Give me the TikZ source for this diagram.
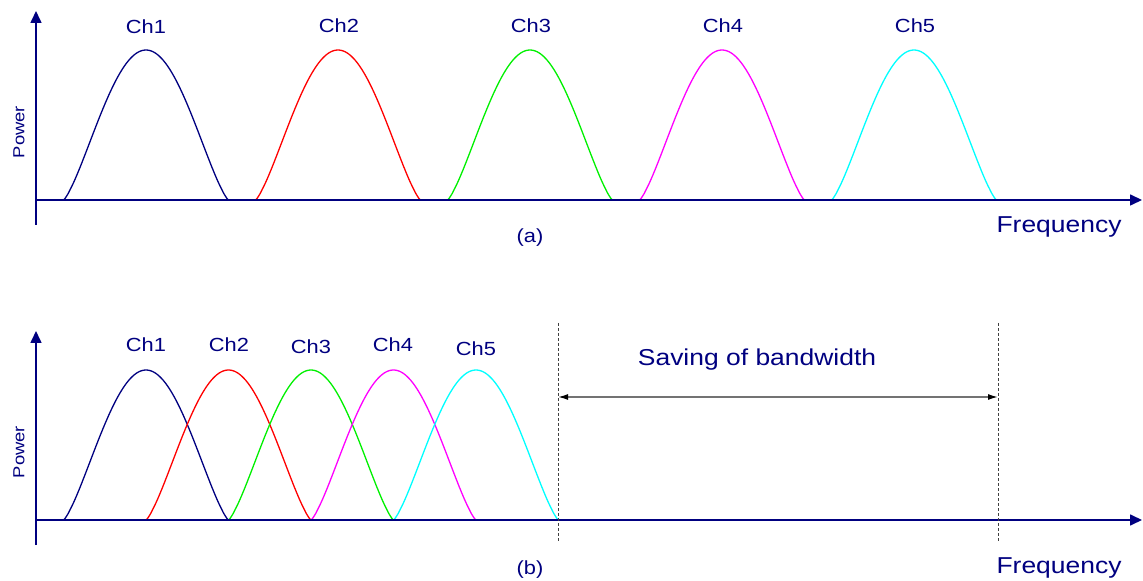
\documentclass[tikz,border=0pt]{standalone}
\usepackage{fontspec}
\setmainfont{Liberation Sans}[FakeStretch=1.15]
\usetikzlibrary{arrows.meta}
\definecolor{navy}{RGB}{0,0,128}
\definecolor{chred}{RGB}{255,0,0}
\definecolor{chgreen}{RGB}{0,240,0}
\definecolor{chmag}{RGB}{255,0,255}
\definecolor{chcyan}{RGB}{0,255,255}
\newcommand\chcurve[3]{\draw[chan,#1] plot[domain=0:1,samples=100,smooth] ({#2+165*(\x-0.5)},{#3-150*pow(abs(sin(180*\x)),1.3)});}
\tikzset{
  axis/.style={navy, line width=0.8pt, -{Triangle[length=6pt,width=5.5pt]}},
  lbl/.style={navy, font=\fontsize{9.5}{10}\selectfont, anchor=base, inner sep=0pt},
  biglbl/.style={navy, font=\fontsize{11.5}{13}\selectfont, anchor=base, inner sep=0pt},
  pwlbl/.style={navy, font=\fontsize{8}{8}\selectfont, rotate=90, anchor=base, inner sep=0pt},
  chan/.style={line width=0.65pt},
  guide/.style={black!75, line width=0.5pt, dash pattern=on 1.5pt off 1pt},
  span/.style={black!55, line width=0.75pt, {Latex[black,length=5pt,width=3pt]}-{Latex[black,length=5pt,width=3pt]}}
}
\begin{document}
\begin{tikzpicture}[x=0.5pt,y=-0.5pt]
\useasboundingbox (0,0) rectangle (1143,581);
% ---------- panel (a) ----------
\chcurve{navy}{146}{200}
\chcurve{chred}{338}{200}
\chcurve{chgreen}{530}{200}
\chcurve{chmag}{722}{200}
\chcurve{chcyan}{914}{200}
\coordinate (ya0) at (36,225);
\coordinate (ya1) at (36,11);
\coordinate (xa0) at (36,200);
\coordinate (xa1) at (1142,200);
\draw[axis] (ya0) -- (ya1);
\draw[axis] (xa0) -- (xa1);
\node[lbl] (a1) at (146,34) {Ch1};
\node[lbl] (a2) at (339,33) {Ch2};
\node[lbl] (a3) at (531,33) {Ch3};
\node[lbl] (a4) at (723,33) {Ch4};
\node[lbl] (a5) at (915,33) {Ch5};
\node[pwlbl] (pa) at (24.5,132) {Power};
\node[biglbl] (fa) at (1059,233) {Frequency};
\node[lbl] (capa) at (530,243) {(a)};
% ---------- panel (b) ----------
\chcurve{navy}{146}{520}
\chcurve{chred}{228.5}{520}
\chcurve{chgreen}{311}{520}
\chcurve{chmag}{393.5}{520}
\chcurve{chcyan}{476}{520}
\coordinate (yb0) at (36,545);
\coordinate (yb1) at (36,331);
\coordinate (xb0) at (36,520);
\coordinate (xb1) at (1142,520);
\draw[axis] (yb0) -- (yb1);
\draw[axis] (xb0) -- (xb1);
\node[lbl] (b1) at (146,352) {Ch1};
\node[lbl] (b2) at (229,352) {Ch2};
\node[lbl] (b3) at (311,354) {Ch3};
\node[lbl] (b4) at (393,352) {Ch4};
\node[lbl] (b5) at (476,356) {Ch5};
\node[pwlbl] (pb) at (24.5,452) {Power};
\node[biglbl] (fb) at (1059,573) {Frequency};
\node[lbl] (capb) at (530,574) {(b)};
% saving of bandwidth
\coordinate (g1t) at (558,323);
\coordinate (g1b) at (558,543);
\coordinate (g2t) at (998,323);
\coordinate (g2b) at (998,543);
\draw[guide] (g1t) -- (g1b);
\draw[guide] (g2t) -- (g2b);
\coordinate (s1) at (558,397);
\coordinate (s2) at (998,397);
\draw[span] (s1) -- (s2);
\node[biglbl] (save) at (757,366) {Saving of bandwidth};
\end{tikzpicture}
\end{document}
